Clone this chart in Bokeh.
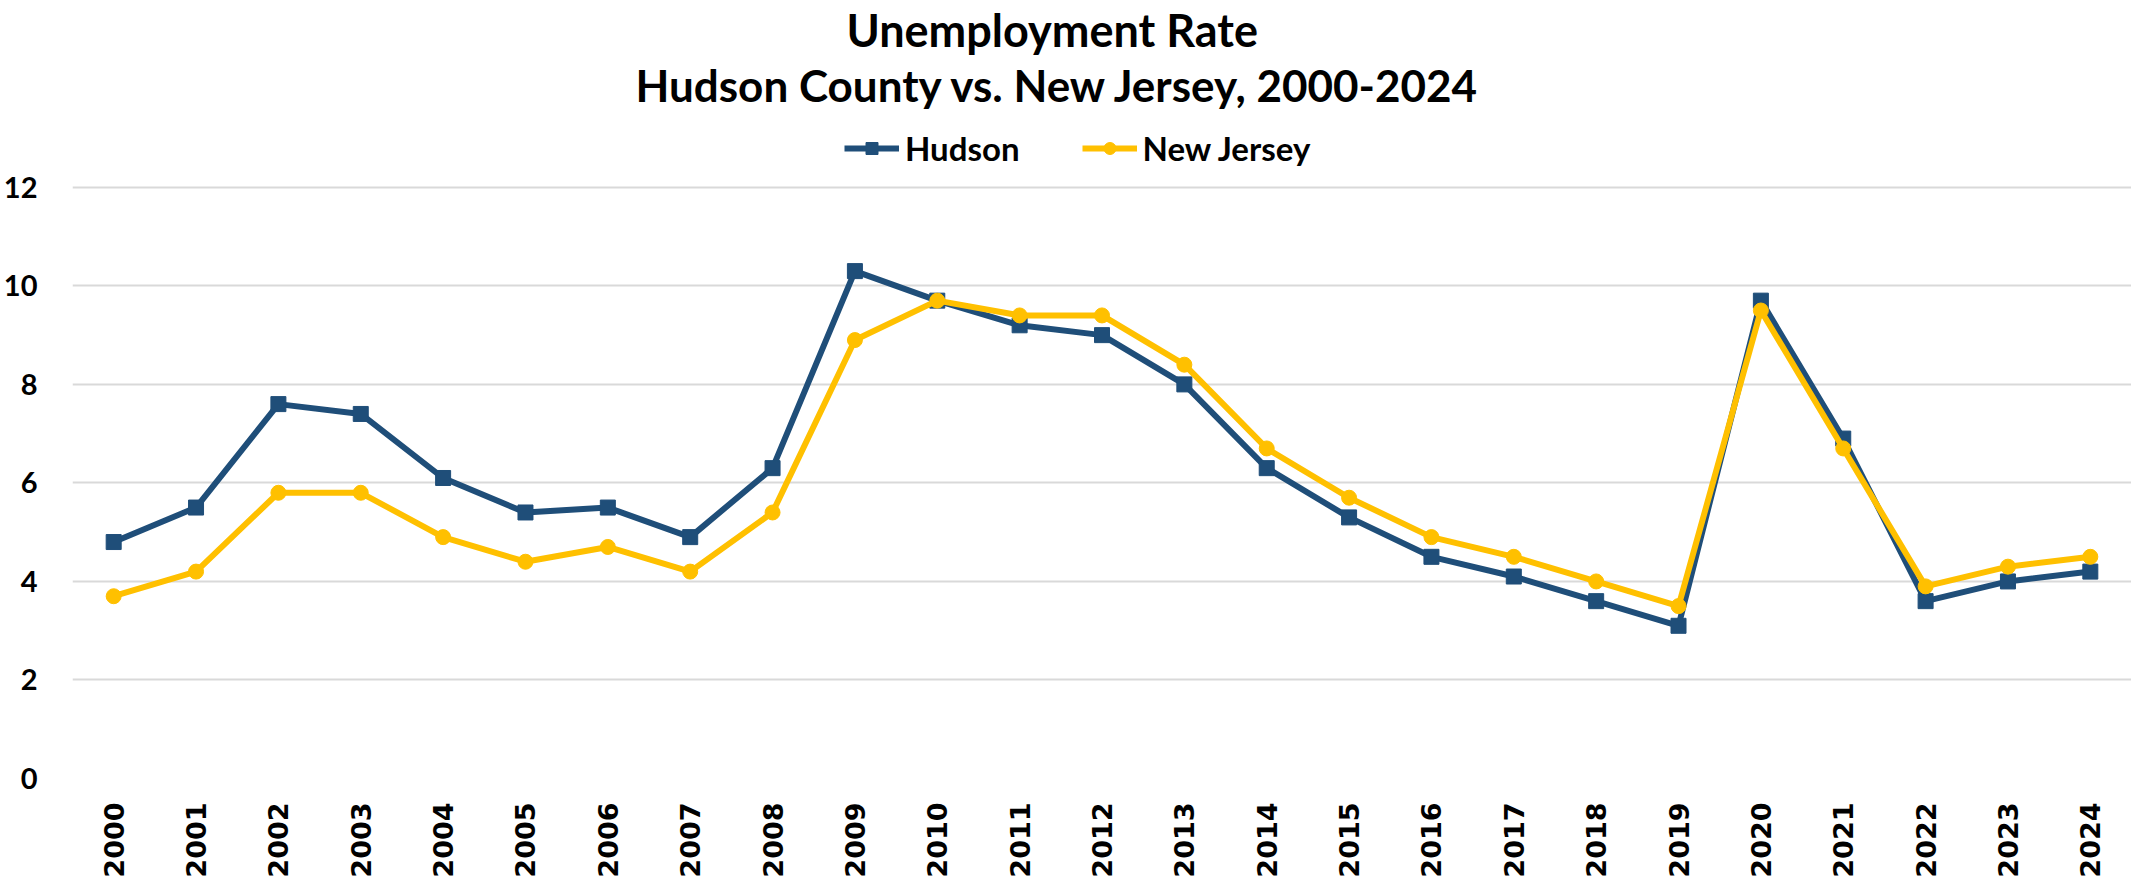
from math import pi
from bokeh.plotting import figure
from bokeh.models import Title, Legend, LegendItem, FactorRange, Range1d, FixedTicker
from bokeh.embed import file_html
from bokeh.resources import INLINE

years = ["2000", "2001", "2002", "2003", "2004", "2005", "2006", "2007", "2008",
         "2009", "2010", "2011", "2012", "2013", "2014", "2015", "2016", "2017",
         "2018", "2019", "2020", "2021", "2022", "2023", "2024"]
hudson = [4.8, 5.5, 7.6, 7.4, 6.1, 5.4, 5.5, 4.9, 6.3, 10.3, 9.7, 9.2, 9.0, 8.0,
          6.3, 5.3, 4.5, 4.1, 3.6, 3.1, 9.7, 6.9, 3.6, 4.0, 4.2]
new_jersey = [3.7, 4.2, 5.8, 5.8, 4.9, 4.4, 4.7, 4.2, 5.4, 8.9, 9.7, 9.4, 9.4, 8.4,
              6.7, 5.7, 4.9, 4.5, 4.0, 3.5, 9.5, 6.7, 3.9, 4.3, 4.5]
y_ticks = [0, 2, 4, 6, 8, 10, 12]

title_1 = "Unemployment Rate"
title_2 = "Hudson County vs. New Jersey, 2000-2024"

BLUE = "#1F4E79"
GOLD = "#FFC000"
FONT = "Lato"

# frame extends above 12 to hold the legend (no gridlines there)
Y_TOP = 13.56

p = figure(x_range=FactorRange(*years), y_range=Range1d(0, Y_TOP),
           frame_width=2059, frame_height=668, output_backend="svg", toolbar_location=None,
           min_border_left=69, min_border_right=0, min_border_top=0, min_border_bottom=0,
           background_fill_color="white", border_fill_color="white")
p.outline_line_color = None

# axes
p.yaxis.ticker = FixedTicker(ticks=y_ticks)
for ax in (p.xaxis, p.yaxis):
    ax.axis_line_color = None
    ax.major_tick_line_color = None
    ax.minor_tick_line_color = None
    ax.major_tick_out = 0
    ax.major_tick_in = 0
p.yaxis.major_label_text_font = FONT
p.yaxis.major_label_text_font_style = "bold"
p.yaxis.major_label_text_font_size = "29px"
p.yaxis.major_label_text_color = "black"
p.yaxis.major_label_standoff = 35

p.xaxis.major_label_orientation = pi / 2
p.xaxis.major_label_text_font = "DejaVu Sans"
p.xaxis.major_label_text_font_style = "bold"
p.xaxis.major_label_text_font_size = "27px"
p.xaxis.major_label_text_color = "black"
p.xaxis.major_label_standoff = 24

p.xgrid.grid_line_color = None
p.ygrid.grid_line_color = "#D9D9D9"
p.ygrid.grid_line_width = 2

# series
r1 = p.line(years, hudson, line_color=BLUE, line_width=6)
s1 = p.scatter(years, hudson, marker="square", size=15, fill_color=BLUE, line_color=BLUE)
r2 = p.line(years, new_jersey, line_color=GOLD, line_width=6)
s2 = p.scatter(years, new_jersey, marker="circle", size=15, fill_color=GOLD, line_color=GOLD)

legend = Legend(items=[LegendItem(label="Hudson", renderers=[r1, s1]),
                       LegendItem(label="New Jersey", renderers=[r2, s2])],
                orientation="horizontal", location=(772, 610),
                label_text_font=FONT, label_text_font_style="bold",
                label_text_font_size="33px", label_text_color="black",
                glyph_width=55, glyph_height=30, label_standoff=6, spacing=62,
                padding=0, margin=0, border_line_color=None,
                background_fill_alpha=0)
p.add_layout(legend, "center")

p.add_layout(Title(text=title_2, align="left", text_font=FONT, text_font_style="bold",
                   text_font_size="44px", text_color="black", offset=563, standoff=0), "above")
p.add_layout(Title(text=title_1, align="left", text_font=FONT, text_font_style="bold",
                   text_font_size="45px", text_color="black", offset=774, standoff=0), "above")

open("out.html", "w").write(file_html(p, INLINE))
